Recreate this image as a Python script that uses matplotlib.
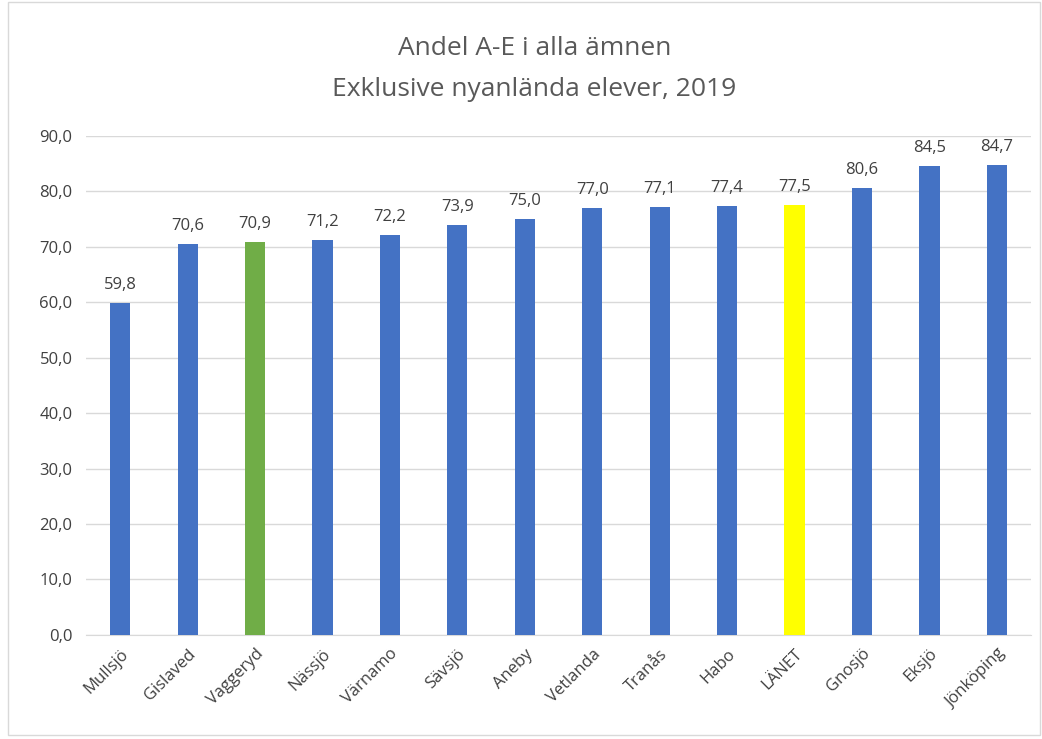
import matplotlib.pyplot as plt
from matplotlib.patches import Rectangle

# data
kommuner = ['Mullsjö', 'Gislaved', 'Vaggeryd', 'Nässjö', 'Värnamo', 'Sävsjö', 'Aneby',
            'Vetlanda', 'Tranås', 'Habo', 'LÄNET', 'Gnosjö', 'Eksjö', 'Jönköping']
andel = [59.8, 70.6, 70.9, 71.2, 72.2, 73.9, 75.0, 77.0, 77.1, 77.4, 77.5, 80.6, 84.5, 84.7]

blue = '#4472C4'
colors = [blue] * len(kommuner)
colors[kommuner.index('Vaggeryd')] = '#70AD47'
colors[kommuner.index('LÄNET')] = '#FFFF00'

plt.rcParams['font.family'] = ['Open Sans', 'DejaVu Sans']

fig = plt.figure(figsize=(10.42, 7.39), dpi=100)
ax = fig.add_axes([0.083, 0.141, 0.906, 0.675])

x = range(len(kommuner))
bars = ax.bar(x, andel, width=0.3, color=colors, zorder=3)

for b, v in zip(bars, andel):
    ax.text(b.get_x() + b.get_width() / 2, v + 1.8, f'{v:.1f}'.replace('.', ','),
            ha='center', va='bottom', fontsize=12, color='#404040')

ax.set_xlim(-0.5, len(kommuner) - 0.5)
ax.set_ylim(0, 90)
ax.set_yticks(range(0, 91, 10))
ax.set_yticklabels([f'{t},0' for t in range(0, 91, 10)], fontsize=12, color='#404040')
ax.set_xticks(list(x))
ax.set_xticklabels(kommuner, rotation=45, ha='right', rotation_mode='anchor',
                   fontsize=12, color='#404040')
ax.tick_params(axis='y', length=0, pad=10)
ax.tick_params(axis='x', length=0, pad=8)
ax.grid(axis='y', color='#D9D9D9', lw=1, zorder=0)
for s in ['top', 'right', 'left']:
    ax.spines[s].set_visible(False)
ax.spines['bottom'].set_color('#D9D9D9')

fig.text(0.513, 0.935, 'Andel A-E i alla ämnen', ha='center', va='center',
         fontsize=19, color='#595959')
fig.text(0.513, 0.879, 'Exklusive nyanlända elever, 2019', ha='center', va='center',
         fontsize=19, color='#595959')

fig.patches.append(Rectangle((0.008, 0.005), 0.99, 0.992, transform=fig.transFigure,
                             fill=False, edgecolor='#D9D9D9', lw=1))

fig.savefig('out.png', dpi=100)
